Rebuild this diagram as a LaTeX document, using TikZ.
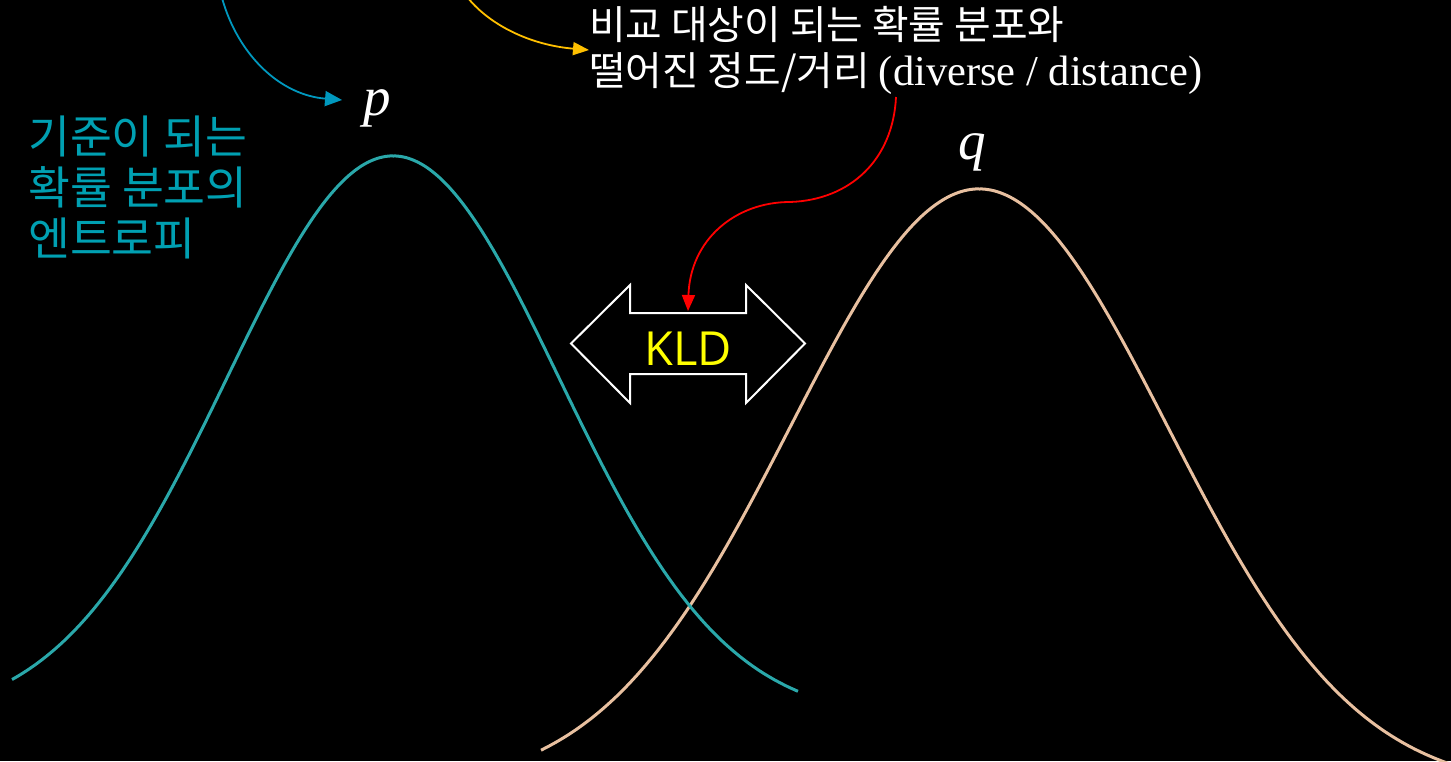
\documentclass[tikz,border=0pt]{standalone}
\usepackage{fontspec}
\setmainfont{Liberation Serif}
\newfontfamily\krfont{Noto Sans CJK KR}
\newfontfamily\kldfont{Open Sans}
\usetikzlibrary{arrows.meta}
\definecolor{tealcurve}{RGB}{42,168,170}
\definecolor{tealtxt}{RGB}{0,160,178}
\definecolor{bluearr}{RGB}{0,152,190}
\definecolor{peach}{RGB}{232,192,160}
\definecolor{orangearr}{RGB}{255,192,0}
\definecolor{redarr}{RGB}{255,0,0}
\definecolor{kldyellow}{RGB}{255,255,0}
\begin{document}
\begin{tikzpicture}[x=1pt,y=-1pt,
  curve/.style={line width=3pt},
  conn/.style={line width=1.8pt},
  lbl/.style={inner sep=0pt},
  mathlbl/.style={inner sep=1pt, text=white, font=\rmfamily\itshape\fontsize{55}{55}\selectfont}]
\fill[black] (0,0) rectangle (1451,761);
\useasboundingbox (0,0) rectangle (1451,761);

% distributions
\draw[curve, peach, domain=541:1451, samples=300] plot (\x,{790-601*exp(-0.5*((\x-979)/188)^2)});
\draw[curve, tealcurve, domain=12:798, samples=300] plot (\x,{720-564*exp(-0.5*((\x-393)/166)^2)});

% labels
\node[lbl, anchor=north west, align=left, text=tealtxt,
      font=\krfont\fontsize{45.5}{51}\selectfont] (ent) at (28,116) {기준이 되는\\확률 분포의\\엔트로피};
\node[lbl, anchor=west, align=left, text=white,
      font=\krfont\fontsize{39.8}{46}\selectfont] (cmp) at (589,50)
      {비교 대상이 되는 확률 분포와\\떨어진 정도/거리 {\rmfamily\fontsize{42.5}{46}\selectfont (diverse / distance)}};
\node[mathlbl] (p) at (377,108) {p};
\node[mathlbl] (q) at (972,152) {q};

% KLD double arrow
\draw[white, line width=2pt, line join=miter]
  (571,343.5) -- (630,285) -- (630,313) -- (746,313) -- (746,285) -- (805,343.5)
  -- (746,403) -- (746,374) -- (630,374) -- (630,403) -- cycle;
\node[lbl, anchor=base, text=kldyellow, font=\kldfont\fontsize{47}{47}\selectfont] (kld) at (688,365) {KLD};
\coordinate (kldtop) at (688,311);

% connectors
\coordinate (bstart) at (222,-2);
\coordinate (ostart) at (468,-2);
\coordinate (rstart) at (896,97);
\coordinate (rmid) at (790,202);
\draw[conn, bluearr, -{Triangle[length=17pt,width=15pt]}]
  (bstart) .. controls (238,55) and (280,95) .. ([xshift=-20pt,yshift=8pt]p.west);
\draw[conn, orangearr, -{Triangle[length=16pt,width=13pt]}]
  (ostart) .. controls (490,25) and (530,45) .. (cmp.west);
\draw[conn, redarr, -{Triangle[length=16pt,width=13pt]}]
  (rstart) .. controls (893,160) and (850,200) .. (rmid)
  .. controls (735,202) and (690,240) .. (kldtop);
\end{tikzpicture}
\end{document}
